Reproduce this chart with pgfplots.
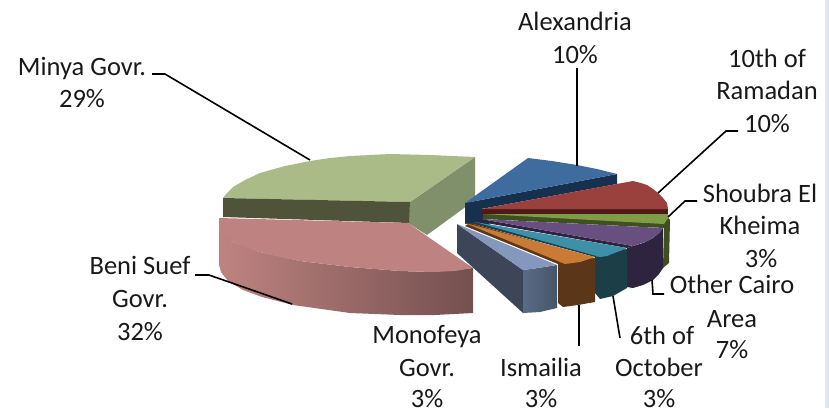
\documentclass[border=0pt]{standalone}
\usepackage{fontspec}
\setmainfont{Carlito}
\usepackage{pgfplots}
\pgfplotsset{compat=1.18}
\definecolor{bT}{HTML}{3E6C9E}\definecolor{bS}{HTML}{17304D}
\definecolor{rT}{HTML}{9A403D}\definecolor{rS}{HTML}{4E1A18}
\definecolor{gT}{HTML}{7F9C47}\definecolor{gS}{HTML}{3F4F22}
\definecolor{pT}{HTML}{67507F}\definecolor{pS}{HTML}{2F2440}
\definecolor{tT}{HTML}{3E90A8}\definecolor{tS}{HTML}{1B3E47}
\definecolor{oT}{HTML}{C97B35}\definecolor{oS}{HTML}{5C3618}
\definecolor{mT}{HTML}{8497BD}\definecolor{mF}{HTML}{3D4658}\definecolor{mR}{HTML}{5A6B85}\definecolor{mQ}{HTML}{465569}
\definecolor{lT}{HTML}{ABBB88}\definecolor{lS}{HTML}{4E533A}\definecolor{lR}{HTML}{80906A}
\definecolor{kT}{HTML}{BE8381}\definecolor{kD}{HTML}{74504F}
\definecolor{edge}{HTML}{DCE6F5}
\newcommand{\lab}[3]{\node[anchor=base,inner sep=0pt,text=black!90,font=\fontsize{26.5}{30}\selectfont] at (axis cs:#1,#2) {#3};}
\newcommand{\poly}[2]{\addplot[fill=#1,draw=none,forget plot] coordinates {#2} -- cycle;}
\newcommand{\lead}[1]{\addplot[black,line width=1.6pt,forget plot] coordinates {#1};}
\begin{document}
\begin{tikzpicture}
\path[use as bounding box] (0,0) rectangle (829pt,408pt);
\begin{axis}[at={(0,0)},anchor=south west,scale only axis,width=829pt,height=408pt,
 xmin=0,xmax=829,ymin=0,ymax=408,y dir=reverse,hide axis,clip=false]
\poly{edge}{(825,0)(829,0)(829,408)(825,408)}
% Minya
\poly{lR}{(410,202)(475,157)(475,200)(427,235)(408,223)}
\poly{lT}{(223,198)(227,193)(233,187)(245,180)(260,173)(285,166)(310,161)(330,158)(350,156)(370,155)(390,154)(430,155)(475,157)(410,202)}
\poly{lS}{(223,198)(410,202)(409,223)(223,217)}
% Beni Suef
\addplot[left color=kT,middle color=kT!85!kD,right color=kD,draw=none,forget plot] coordinates {(219,228)(233,242)(260,252)(300,261)(350,267)(400,271)(433,272)(473,268)(473,313)(435,315)(400,315)(350,313)(293,305)(262,297)(243,290)(228,281)(221,272)(219,265)} -- cycle;
\poly{kT}{(219,218)(408,223)(473,268)(455,271)(433,272)(400,271)(375,269)(350,267)(325,264)(300,261)(280,257)(260,252)(245,247)(233,242)(224,235)(219,228)}
% Alexandria
\poly{bS}{(465,203)(617,174)(617,184)(481,209)(490,225)(465,224)}
\poly{bT}{(465,203)(528,158)(552,161)(577,165)(597,169)(617,174)}
% 10th
\poly{rS}{(481,209)(668,209)(668,214.5)(481,214.5)}
\poly{rT}{(481,209)(633,181)(641,183)(647,185)(653,189)(658,193)(663,198)(667,203)(668,209)}
% Shoubra
\poly{gS}{(483,214)(668,218)(670,220)(669,263)(663,268)(664,228)(483,219)}
\poly{gT}{(483,214)(668,214)(668,218)(664,224)}
% Other Cairo
\poly{pS}{(475,221)(481,219)(633,246)(627,248)}
\poly{pS}{(627,248)(633,246)(643,243)(653,238)(659,233)(663,228)(663,268)(659,274)(653,280)(643,285)(633,288)(627,287)}
\poly{pT}{(481,219)(663,228)(659,233)(653,238)(645,242)(633,246)}
% 6th of October
\poly{tS}{(470,223)(475,222)(627,249)(595,257)}
\poly{tS}{(595,257)(627,249)(627,288)(613,296)(600,299)(595,293)}
\poly{tT}{(475,222)(627,248)(607,256)(600,257)}
% Ismailia
\poly{oS}{(465,226)(470,223)(595,258)(565,264)(558,264)}
\poly{oS}{(558,264)(595,258)(595,302)(578,305)(563,307)(558,303)}
\poly{oT}{(465,223)(595,257)(580,262)(565,264)}
% Monofeya
\poly{mF}{(457,224)(523,270)(523,313)(457,253)}
\addplot[left color=mR,right color=mQ,draw=none,forget plot] coordinates {(523,270)(538,268)(557,265)(557,308)(540,312)(523,313)} -- cycle;
\poly{mT}{(457,224)(557,265)(538,268)(523,270)}
% leaders
\lead{(152,74)(165,74)(310,160)}
\lead{(577,68)(577,166)}
\lead{(738,131)(726,131)(658,193)}
\lead{(697,201)(685,201)(668,217)}
\lead{(664,294)(653,294)(652,280)}
\lead{(620,338)(613,296)}
\lead{(579,346)(579,305)}
\lead{(195,275)(209,275)(292,304)}
% labels
\lab{82}{75}{Minya Govr.}\lab{82}{107}{29\%}
\lab{575}{30}{Alexandria}\lab{575}{63}{10\%}
\lab{767}{67}{10th of}\lab{767}{99}{Ramadan}\lab{767}{132}{10\%}
\lab{760}{202}{Shoubra El}\lab{760}{234}{Kheima}\lab{761}{267}{3\%}
\lab{732}{293}{Other Cairo}\lab{732}{327}{Area}\lab{732}{358}{7\%}
\lab{662}{344}{6th of}\lab{659}{376}{October}\lab{659}{407}{3\%}
\lab{541}{376}{Ismailia}\lab{541}{407}{3\%}
\lab{427}{343}{Monofeya}\lab{427}{376}{Govr.}\lab{427}{407}{3\%}
\lab{140}{274}{Beni Suef}\lab{140}{307}{Govr.}\lab{140}{340}{32\%}
\end{axis}
\end{tikzpicture}
\end{document}
